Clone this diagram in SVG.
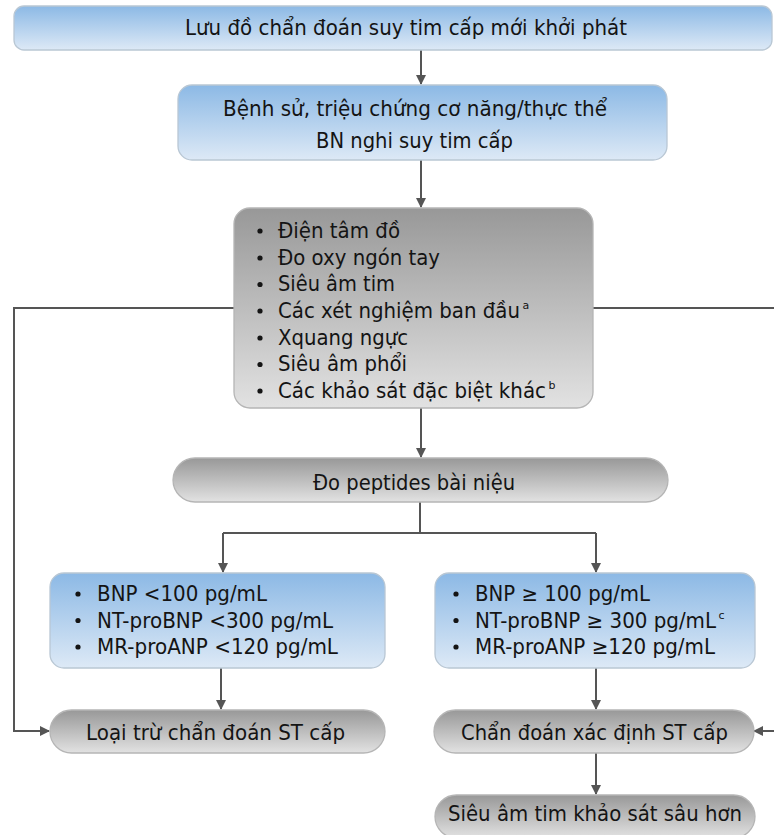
<svg xmlns="http://www.w3.org/2000/svg" width="774" height="835" viewBox="0 0 774 835">
<defs>
<linearGradient id="gBlue" x1="0" y1="0" x2="0" y2="1">
<stop offset="0" stop-color="#8cb9e5"/>
<stop offset="1" stop-color="#dde9f6"/>
</linearGradient>
<linearGradient id="gGray" x1="0" y1="0" x2="0" y2="1">
<stop offset="0" stop-color="#989898"/>
<stop offset="1" stop-color="#e2e2e2"/>
</linearGradient>
<marker id="arr" markerWidth="10" markerHeight="10" refX="9" refY="5" orient="auto" markerUnits="userSpaceOnUse">
<path d="M0,0 L10,5 L0,10 z" fill="#555"/>
</marker>
<style>
.blue{fill:url(#gBlue);stroke:#b9c7d4;stroke-width:1.3}
.gray{fill:url(#gGray);stroke:#b5b5b5;stroke-width:1.3}
.t{font-family:"DejaVu Sans","Liberation Sans",sans-serif;fill:#141414}
.t21{font-size:22px}
.t19{font-size:20.5px}
.sup{font-family:"DejaVu Sans","Liberation Sans",sans-serif;fill:#141414;font-size:11px}
.bul{fill:#141414}
.con{fill:none;stroke:#555;stroke-width:2}
</style>
</defs>

<g id="connectors">
<path class="con" d="M421,50 V84" marker-end="url(#arr)"/>
<path class="con" d="M421,160 V207" marker-end="url(#arr)"/>
<path class="con" d="M421,408 V457" marker-end="url(#arr)"/>
<path class="con" d="M420,502 V533 M223,533 H596"/>
<path class="con" d="M223,533 V572" marker-end="url(#arr)"/>
<path class="con" d="M596,533 V572" marker-end="url(#arr)"/>
<path class="con" d="M221,668 V709" marker-end="url(#arr)"/>
<path class="con" d="M596,668 V709" marker-end="url(#arr)"/>
<path class="con" d="M596,753 V794" marker-end="url(#arr)"/>
<path class="con" d="M234,308 H14 V731 H49" marker-end="url(#arr)"/>
<path class="con" d="M593,308 H774"/>
<path class="con" d="M774,731 H754" marker-end="url(#arr)"/>
</g>

<g id="n-title">
<rect class="blue" x="14" y="6" width="758" height="44" rx="10"/>
<text class="t t21" x="185" y="35" textLength="442" lengthAdjust="spacingAndGlyphs">Lưu đồ chẩn đoán suy tim cấp mới khởi phát</text>
</g>

<g id="n-history">
<rect class="blue" x="178" y="85" width="489" height="75" rx="14"/>
<text class="t t21" x="223" y="116" textLength="384" lengthAdjust="spacingAndGlyphs">Bệnh sử, triệu chứng cơ năng/thực thể</text>
<text class="t t21" x="316" y="148" textLength="197" lengthAdjust="spacingAndGlyphs">BN nghi suy tim cấp</text>
</g>

<g id="n-tests">
<rect class="gray" x="234" y="208" width="359" height="200" rx="16"/>
<circle class="bul" cx="260" cy="231" r="2.6"/>
<circle class="bul" cx="260" cy="258" r="2.6"/>
<circle class="bul" cx="260" cy="284.5" r="2.6"/>
<circle class="bul" cx="260" cy="311" r="2.6"/>
<circle class="bul" cx="260" cy="338" r="2.6"/>
<circle class="bul" cx="260" cy="364.5" r="2.6"/>
<circle class="bul" cx="260" cy="391" r="2.6"/>
<text class="t t19" x="278" y="238" textLength="122" lengthAdjust="spacingAndGlyphs">Điện tâm đồ</text>
<text class="t t19" x="278" y="264.5" textLength="162" lengthAdjust="spacingAndGlyphs">Đo oxy ngón tay</text>
<text class="t t19" x="278" y="291" textLength="117" lengthAdjust="spacingAndGlyphs">Siêu âm tim</text>
<text class="t t19" x="278" y="317.5" textLength="242" lengthAdjust="spacingAndGlyphs">Các xét nghiệm ban đầu</text>
<text class="sup" x="522.5" y="309">a</text>
<text class="t t19" x="278" y="344.5" textLength="130" lengthAdjust="spacingAndGlyphs">Xquang ngực</text>
<text class="t t19" x="278" y="371" textLength="129" lengthAdjust="spacingAndGlyphs">Siêu âm phổi</text>
<text class="t t19" x="278" y="397.5" textLength="268" lengthAdjust="spacingAndGlyphs">Các khảo sát đặc biệt khác</text>
<text class="sup" x="548.5" y="389">b</text>
</g>

<g id="n-peptides">
<rect class="gray" x="173" y="458" width="495" height="44" rx="22"/>
<text class="t t19" x="313" y="490" textLength="202" lengthAdjust="spacingAndGlyphs">Đo peptides bài niệu</text>
</g>

<g id="n-low">
<rect class="blue" x="50" y="573" width="335" height="95" rx="14"/>
<circle class="bul" cx="78" cy="594" r="2.6"/>
<circle class="bul" cx="78" cy="620.5" r="2.6"/>
<circle class="bul" cx="78" cy="647" r="2.6"/>
<text class="t t19" x="97" y="601" textLength="170" lengthAdjust="spacingAndGlyphs">BNP &lt;100 pg/mL</text>
<text class="t t19" x="97" y="627.5" textLength="236" lengthAdjust="spacingAndGlyphs">NT-proBNP &lt;300 pg/mL</text>
<text class="t t19" x="97" y="654" textLength="241" lengthAdjust="spacingAndGlyphs">MR-proANP &lt;120 pg/mL</text>
</g>

<g id="n-high">
<rect class="blue" x="435" y="573" width="320" height="95" rx="14"/>
<circle class="bul" cx="456" cy="594" r="2.6"/>
<circle class="bul" cx="456" cy="620.5" r="2.6"/>
<circle class="bul" cx="456" cy="647" r="2.6"/>
<text class="t t19" x="475" y="601" textLength="175" lengthAdjust="spacingAndGlyphs">BNP ≥ 100 pg/mL</text>
<text class="t t19" x="475" y="627.5" textLength="241" lengthAdjust="spacingAndGlyphs">NT-proBNP ≥ 300 pg/mL</text>
<text class="sup" x="718.5" y="619">c</text>
<text class="t t19" x="475" y="654" textLength="240" lengthAdjust="spacingAndGlyphs">MR-proANP ≥120 pg/mL</text>
</g>

<g id="n-exclude">
<rect class="gray" x="50" y="710" width="335" height="43" rx="21.5"/>
<text class="t t21" x="86" y="740" textLength="259" lengthAdjust="spacingAndGlyphs">Loại trừ chẩn đoán ST cấp</text>
</g>

<g id="n-confirm">
<rect class="gray" x="434" y="710" width="320" height="43" rx="21.5"/>
<text class="t t21" x="461" y="740" textLength="267" lengthAdjust="spacingAndGlyphs">Chẩn đoán xác định ST cấp</text>
</g>

<g id="n-echo">
<rect class="gray" x="435" y="795" width="320" height="43" rx="21.5"/>
<text class="t" style="font-size:21px" x="448" y="821" textLength="294" lengthAdjust="spacingAndGlyphs">Siêu âm tim khảo sát sâu hơn</text>
</g>
</svg>
